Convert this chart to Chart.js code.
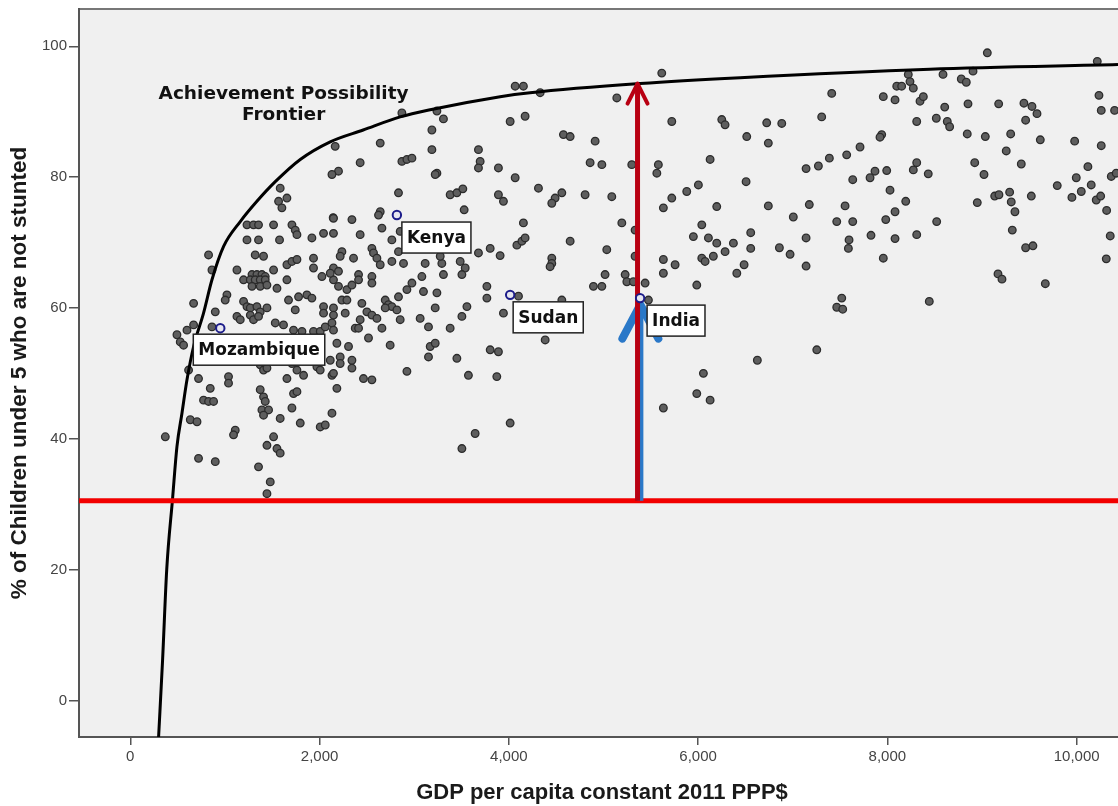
<!DOCTYPE html>
<html>
<head>
<meta charset="utf-8">
<script src="https://cdn.jsdelivr.net/npm/chart.js@4.4.1/dist/chart.umd.min.js"></script>
<style>
  html, body { margin: 0; padding: 0; background: #fff; }
  #wrap { width: 1118px; height: 806px; }
</style>
</head>
<body>
<div id="wrap"><canvas id="chart" width="1118" height="806"></canvas></div>
<script>
// GDP per capita (constant 2011 PPP$) of each country
const gdp = [
  1584, 1567, 1655, 1602, 2144, 1233, 1302, 1355, 1514, 1708, 1743, 1761, 1233, 1355, 1577, 1919, 2042, 2147,
  827, 1320, 1408, 1655, 1708, 1761, 1936, 1936, 2147, 863, 1127, 1514, 1286, 1338, 1391, 1426, 1197, 1268,
  1320, 1373, 1426, 1655, 2025, 2147, 1286, 1373, 1444, 1550, 2200, 1021, 1003, 1778, 1866, 1919, 1672, 669,
  1197, 1233, 1268, 1338, 1373, 1444, 2042, 2147, 898, 1743, 2042, 2147, 1127, 1162, 1268, 1302, 1355, 669,
  599, 863, 1532, 1619, 1725, 1814, 1936, 2007, 2060, 2131, 2147, 493, 528, 563, 616, 1373, 1408, 1444,
  1708, 1761, 1831, 1972, 2007, 2113, 721, 1038, 1038, 1655, 2183, 2131, 845, 774, 827, 880, 1373, 1408,
  1426, 1391, 1461, 1408, 1725, 1761, 1708, 2131, 634, 705, 1584, 1796, 2007, 2060, 1109, 1091, 1514, 370,
  1444, 1550, 1584, 721, 898, 1355, 1479, 1444,
  4067, 4154, 2870, 3240, 3309, 4014, 4172, 3187, 2641, 2165, 3187, 3679, 2870, 2923, 2976, 2429, 3697, 3679,
  3890, 3240, 3222, 4067, 2200, 2131, 3380, 3451, 3514, 3890, 3943, 2834, 2641, 2623, 3528, 2147, 2342, 4154,
  2659, 2429, 2764, 2852, 4085, 4138, 4172, 2553, 2570, 2606, 2641, 2236, 2218, 2834, 3679, 3803, 3908, 2359,
  2764, 2887, 3116, 3292, 3275, 3486, 3539, 3504, 2113, 2200, 2412, 2412, 2553, 2553, 3081, 3309, 2289, 2342,
  2976, 2923, 2834, 3098, 3240, 3768, 3768, 4102, 2236, 2289, 2694, 2728, 2764, 2817, 2694, 2447, 3222, 3557,
  3504, 3943, 2271, 2500, 2553, 2606, 2852, 3063, 2377, 2412, 2429, 3151, 2659, 3380, 2517, 2183, 2306, 3169,
  3222, 2746, 3803, 3890, 3151, 3451, 2218, 2218, 2342, 2342, 2147, 2923, 3573, 3873, 2464, 2553, 3644, 4014,
  3504,
  5616, 4331, 5141, 5722, 6250, 6285, 4577, 4648, 4912, 4859, 4983, 5299, 5580, 5564, 6127, 4313, 4560, 4489,
  4454, 4806, 5088, 5722, 5633, 5880, 6003, 6197, 5194, 5334, 4648, 6039, 5950, 6109, 6197, 6285, 6373, 5035,
  5334, 4454, 4454, 4436, 5633, 5757, 6039, 6074, 6161, 6409, 5633, 5017, 4894, 4983, 5229, 5247, 5316, 5440,
  5986, 5475, 4560, 4384, 6056, 5986, 6127, 5633,
  8221, 8239, 8274, 8099, 8151, 7957, 8081, 8345, 8380, 7412, 7306, 8310, 6725, 6884, 6514, 6742, 7940, 7922,
  7711, 7570, 7387, 7271, 7141, 8310, 8274, 8432, 7869, 7817, 7993, 7634, 6507, 8028, 8194, 6742, 7175, 7553,
  7006, 7465, 7634, 7983, 8081, 6556, 6556, 7141, 7827, 7595, 7588, 8081, 8310, 6859, 6972, 7957, 6486, 7141,
  8443, 7518, 7465, 7528, 7254, 6626,
  9056, 10218, 8588, 8781, 8834, 8905, 8606, 8852, 9176, 9443, 9528, 9581, 9461, 10236, 10260, 10401, 8517, 8633,
  8658, 8844, 9035, 9303, 9616, 9979, 10260, 9256, 8923, 9415, 9021, 10119, 9996, 10154, 10049, 9950, 10366, 10418,
  9795, 10207, 10254, 10317, 9134, 9179, 9292, 9309, 9348, 9521, 8950, 8521, 9320, 10355, 9461, 9538, 10313, 9169,
  9211, 9669
];
// % of children under 5 who are not stunted (same order as gdp)
const notStunted = [
  78.3, 76.3, 76.8, 75.3, 73.8, 72.7, 72.7, 72.7, 72.7, 72.7, 71.9, 71.2, 70.4, 70.4, 70.4, 70.7, 71.4, 71.4,
  68.1, 68.1, 67.9, 66.6, 67.1, 67.4, 67.6, 66.1, 66.1, 65.8, 65.8, 65.8, 65.1, 65.1, 65.1, 64.8, 64.3, 64.3,
  64.3, 64.3, 64.3, 64.3, 64.8, 64.3, 63.3, 63.3, 63.5, 63.0, 63.3, 62.0, 61.2, 61.7, 62.0, 61.5, 61.2, 60.7,
  61.0, 60.2, 60.0, 60.2, 59.4, 60.0, 60.2, 60.0, 59.4, 59.7, 59.2, 58.9, 58.7, 58.2, 58.9, 58.2, 58.7, 57.4,
  56.6, 57.1, 57.7, 57.4, 56.6, 56.4, 56.4, 56.4, 57.1, 57.7, 56.6, 55.9, 54.8, 54.3, 50.5, 51.3, 50.5, 50.8,
  51.5, 50.5, 49.7, 51.0, 50.5, 52.0, 49.2, 49.5, 48.5, 49.2, 47.7, 49.7, 47.7, 45.9, 45.7, 45.7, 47.5, 46.4,
  45.7, 44.4, 44.4, 43.6, 46.9, 47.2, 44.7, 43.9, 42.9, 42.6, 43.1, 42.4, 41.8, 42.1, 41.3, 40.6, 40.3, 40.3,
  39.0, 38.5, 37.8, 37.0, 36.5, 35.7, 33.4, 31.6,
  93.9, 93.9, 89.8, 90.1, 88.9, 88.5, 89.3, 87.2, 85.2, 84.7, 84.2, 84.2, 82.4, 82.7, 82.9, 82.2, 82.4, 81.4,
  81.4, 80.6, 80.4, 79.9, 80.9, 80.4, 77.3, 77.6, 78.2, 77.3, 76.3, 77.6, 74.7, 74.2, 75.0, 73.7, 73.5, 73.0,
  72.2, 71.2, 70.4, 71.7, 69.6, 70.2, 70.7, 69.1, 68.4, 67.6, 66.6, 68.6, 67.9, 68.6, 68.4, 69.1, 68.0, 67.6,
  67.1, 66.8, 66.8, 66.8, 67.9, 67.1, 66.1, 65.1, 65.3, 65.6, 65.1, 64.3, 64.8, 63.8, 64.8, 65.1, 62.8, 63.5,
  63.8, 62.8, 61.7, 62.5, 62.3, 63.3, 61.5, 61.8, 61.2, 61.2, 61.2, 60.5, 60.2, 59.7, 60.0, 60.7, 60.0, 60.2,
  58.7, 59.2, 59.2, 59.4, 58.9, 58.4, 58.2, 58.4, 56.9, 56.9, 58.2, 57.1, 56.9, 56.9, 55.4, 54.6, 54.1, 54.1,
  54.6, 54.3, 53.6, 53.3, 52.5, 52.3, 52.5, 51.5, 52.0, 50.8, 50.0, 50.3, 49.7, 49.5, 49.2, 49.0, 40.8, 42.4,
  38.5,
  95.9, 92.9, 92.1, 88.5, 88.8, 88.0, 86.5, 86.2, 85.5, 82.2, 81.9, 81.9, 81.9, 80.6, 82.7, 78.3, 77.6, 76.8,
  76.0, 77.3, 77.0, 76.8, 75.3, 77.8, 78.8, 75.5, 73.0, 71.9, 70.2, 72.7, 70.9, 70.7, 69.9, 68.6, 69.9, 68.9,
  67.9, 67.6, 66.8, 66.3, 67.4, 66.6, 67.6, 67.1, 67.9, 65.3, 65.3, 65.1, 63.3, 63.3, 65.1, 64.0, 64.0, 63.8,
  63.5, 61.2, 61.2, 55.1, 50.0, 46.9, 45.9, 44.7,
  95.7, 94.6, 93.6, 93.9, 93.9, 92.3, 91.8, 91.6, 92.3, 92.8, 89.2, 88.5, 88.3, 88.2, 86.2, 85.2, 86.5, 86.1,
  84.6, 83.4, 82.9, 81.7, 81.3, 82.2, 81.1, 80.5, 80.9, 79.9, 81.0, 79.6, 79.3, 78.0, 76.3, 75.6, 75.8, 75.6,
  73.9, 73.2, 73.2, 73.5, 74.7, 71.5, 69.1, 70.7, 71.1, 70.4, 69.1, 70.6, 71.2, 69.2, 68.2, 67.6, 66.6, 66.4,
  61.0, 61.5, 60.1, 59.8, 53.6, 52.0,
  99.0, 97.7, 95.7, 95.0, 94.5, 96.2, 90.7, 91.2, 91.2, 91.3, 90.8, 89.7, 88.7, 92.5, 90.2, 90.2, 89.0, 88.5,
  87.7, 86.6, 86.2, 86.6, 85.7, 85.5, 84.8, 84.0, 82.2, 82.0, 80.4, 81.6, 79.9, 78.8, 77.8, 76.9, 80.1, 80.6,
  78.7, 76.5, 77.1, 74.9, 77.1, 77.3, 77.7, 76.2, 74.7, 77.1, 76.1, 73.2, 71.9, 71.0, 69.2, 69.5, 67.5, 65.2,
  64.4, 63.7
];

// highlighted countries
const countries = ["Mozambique", "Kenya", "Sudan", "India"];
const countryGdp = [951, 2817, 4014, 5387];
const countryNotStunted = [56.9, 74.2, 62.0, 61.5];

// achievement possibility frontier
const frontierGdp = [299, 341, 385, 447, 493, 546, 599, 669, 774, 863, 986, 1162, 1338, 1532, 1796,
  2113, 2461, 2852, 3169, 3908, 4225, 5387, 6444, 8450, 10437];
const frontierPct = [-5.6, 6.1, 20, 30.9, 38.8, 43.9, 49, 54.1, 59.2, 64.3, 69.4, 73.2, 76.3, 79.3, 82.7,
  85.4, 87.2, 89.2, 90.3, 92.3, 92.9, 94.3, 95.2, 96.5, 97.2];

// India's level and the gap up to the frontier
const indiaLevel = 30.5;
const redArrowGdp = 5360;
const redArrowTop = 94.3;
const blueArrowGdp = 5390;
const blueArrowTop = 60.5;

const xTicks = [0, 2000, 4000, 6000, 8000, 10000];
const yTicks = [0, 20, 40, 60, 80, 100];
const xMin = -542, xMax = 10437;
const yMin = -5.6, yMax = 105.7;

const frontierLabel = ["Achievement Possibility", "Frontier"];
const frontierLabelAt = { x: 1620, y: 92.6 };
const xTitle = "GDP per capita constant 2011 PPP$";
const yTitle = "% of Children under 5 who are not stunted";

const scatterPoints = gdp.map((g, i) => ({ x: g, y: notStunted[i] }));
const countryPoints = countryGdp.map((g, i) => ({ x: g, y: countryNotStunted[i] }));
const frontierPoints = frontierGdp.map((g, i) => ({ x: g, y: frontierPct[i] }));

// label box offsets from the point (pixels)
const labelOffsets = {
  Mozambique: [-27, 6],
  Kenya: [5, 7],
  Sudan: [3, 7],
  India: [7, 7]
};

const labelFont = 'bold 17px "DejaVu Sans", Verdana, sans-serif';

const decorations = {
  id: "decorations",
  beforeDraw(chart) {
    const { ctx, chartArea: a } = chart;
    ctx.save();
    ctx.fillStyle = "#f0f0f0";
    ctx.fillRect(a.left, a.top, a.right - a.left, a.bottom - a.top);
    ctx.strokeStyle = "#777";
    ctx.lineWidth = 2;
    ctx.beginPath();
    ctx.moveTo(a.left, a.top);
    ctx.lineTo(a.right, a.top);
    ctx.stroke();
    ctx.restore();
  },
  afterDatasetDraw(chart, args) {
    const ds = chart.data.datasets[args.index];
    if (!ds.arrow) return;
    const { ctx } = chart;
    const xs = chart.scales.x, ys = chart.scales.y;
    const top = ds.data[ds.data.length - 1];
    const px = xs.getPixelForValue(top.x);
    const py = ys.getPixelForValue(top.y);
    const [w, h, lw] = ds.arrow;
    ctx.save();
    ctx.strokeStyle = ds.borderColor;
    ctx.lineWidth = lw;
    ctx.lineCap = "round";
    ctx.lineJoin = "round";
    ctx.beginPath();
    ctx.moveTo(px - w, py + h);
    ctx.lineTo(px, py);
    ctx.lineTo(px + w, py + h);
    ctx.stroke();
    ctx.restore();
  },
  afterDatasetsDraw(chart) {
    const { ctx } = chart;
    const xs = chart.scales.x, ys = chart.scales.y;
    ctx.save();
    ctx.font = labelFont;
    ctx.textAlign = "center";
    ctx.textBaseline = "middle";
    countries.forEach((name, i) => {
      const px = xs.getPixelForValue(countryGdp[i]);
      const py = ys.getPixelForValue(countryNotStunted[i]);
      const [ox, oy] = labelOffsets[name];
      const w = ctx.measureText(name).width + 10;
      const h = 31;
      const bx = px + ox, by = py + oy;
      ctx.fillStyle = "#fff";
      ctx.fillRect(bx, by, w, h);
      ctx.strokeStyle = "#222";
      ctx.lineWidth = 1.5;
      ctx.strokeRect(bx, by, w, h);
      ctx.fillStyle = "#111";
      ctx.fillText(name, bx + w / 2, by + h / 2 + 1);
    });
    ctx.font = 'bold 18.5px "DejaVu Sans", Verdana, sans-serif';
    const fx = xs.getPixelForValue(frontierLabelAt.x);
    const fy = ys.getPixelForValue(frontierLabelAt.y);
    frontierLabel.forEach((t, i) => ctx.fillText(t, fx, fy + i * 21));
    ctx.restore();
  },
  afterDraw(chart) {
    const { ctx, chartArea: a } = chart;
    ctx.save();
    ctx.fillStyle = "#1a1a1a";
    ctx.textAlign = "center";
    ctx.textBaseline = "middle";
    ctx.font = 'bold 22px "Liberation Sans", Arial, sans-serif';
    ctx.fillText(xTitle, 602, 793);
    ctx.font = 'bold 22.5px "Liberation Sans", Arial, sans-serif';
    ctx.translate(20, (a.top + a.bottom) / 2);
    ctx.rotate(-Math.PI / 2);
    ctx.fillText(yTitle, 0, 0);
    ctx.restore();
  }
};

const ctxEl = document.getElementById("chart");
new Chart(ctxEl, {
  type: "scatter",
  data: {
    datasets: [
      {
        label: "countries",
        data: scatterPoints,
        pointRadius: 3.8,
        pointBackgroundColor: "#5e5e5e",
        pointBorderColor: "#2b2b2b",
        pointBorderWidth: 1.3,
        order: 6
      },
      {
        type: "line",
        label: "frontier",
        data: frontierPoints,
        borderColor: "#000",
        borderWidth: 3,
        pointRadius: 0,
        fill: false,
        cubicInterpolationMode: "monotone",
        order: 5
      },
      {
        type: "line",
        label: "India level",
        data: [{ x: xMin, y: indiaLevel }, { x: xMax, y: indiaLevel }],
        borderColor: "#f20000",
        borderWidth: 5,
        pointRadius: 0,
        fill: false,
        order: 4
      },
      {
        type: "line",
        label: "blue arrow",
        data: [{ x: blueArrowGdp, y: indiaLevel }, { x: blueArrowGdp, y: blueArrowTop }],
        borderColor: "#2a78c8",
        borderWidth: 6,
        pointRadius: 0,
        fill: false,
        arrow: [18, 34, 8],
        order: 3
      },
      {
        type: "line",
        label: "red arrow",
        data: [{ x: redArrowGdp, y: indiaLevel }, { x: redArrowGdp, y: redArrowTop }],
        borderColor: "#b80012",
        borderWidth: 5,
        pointRadius: 0,
        fill: false,
        arrow: [10, 20, 4],
        order: 2
      },
      {
        label: "highlighted",
        data: countryPoints,
        pointRadius: 4.2,
        pointBackgroundColor: "#e6e6f0",
        pointBorderColor: "#1c1c8a",
        pointBorderWidth: 2,
        order: 1
      }
    ]
  },
  options: {
    responsive: false,
    animation: false,
    events: [],
    devicePixelRatio: 1,
    layout: { autoPadding: false, padding: { top: 9, left: 0, right: 0, bottom: 0 } },
    plugins: { legend: { display: false }, tooltip: { enabled: false } },
    scales: {
      x: {
        type: "linear",
        min: xMin,
        max: xMax,
        afterBuildTicks: s => { s.ticks = xTicks.map(v => ({ value: v })); },
        afterFit: s => { s.height = 69; s.paddingLeft = 0; s.paddingRight = 0; },
        ticks: {
          callback: v => v.toLocaleString("en-US"),
          font: { family: '"Liberation Sans", Arial, sans-serif', size: 15 },
          color: "#444",
          padding: 3,
          maxRotation: 0,
          autoSkip: false
        },
        grid: { drawOnChartArea: false, tickLength: 8, color: "#555", lineWidth: 1.5 },
        border: { color: "#555", width: 2 }
      },
      y: {
        min: yMin,
        max: yMax,
        afterBuildTicks: s => { s.ticks = yTicks.map(v => ({ value: v })); },
        afterFit: s => { s.width = 79; s.paddingTop = 0; s.paddingBottom = 0; },
        ticks: {
          font: { family: '"Liberation Sans", Arial, sans-serif', size: 15 },
          color: "#444",
          padding: 2
        },
        grid: { drawOnChartArea: false, tickLength: 10, color: "#555", lineWidth: 1.5 },
        border: { color: "#555", width: 2 }
      }
    }
  },
  plugins: [decorations]
});
</script>
</body>
</html>
